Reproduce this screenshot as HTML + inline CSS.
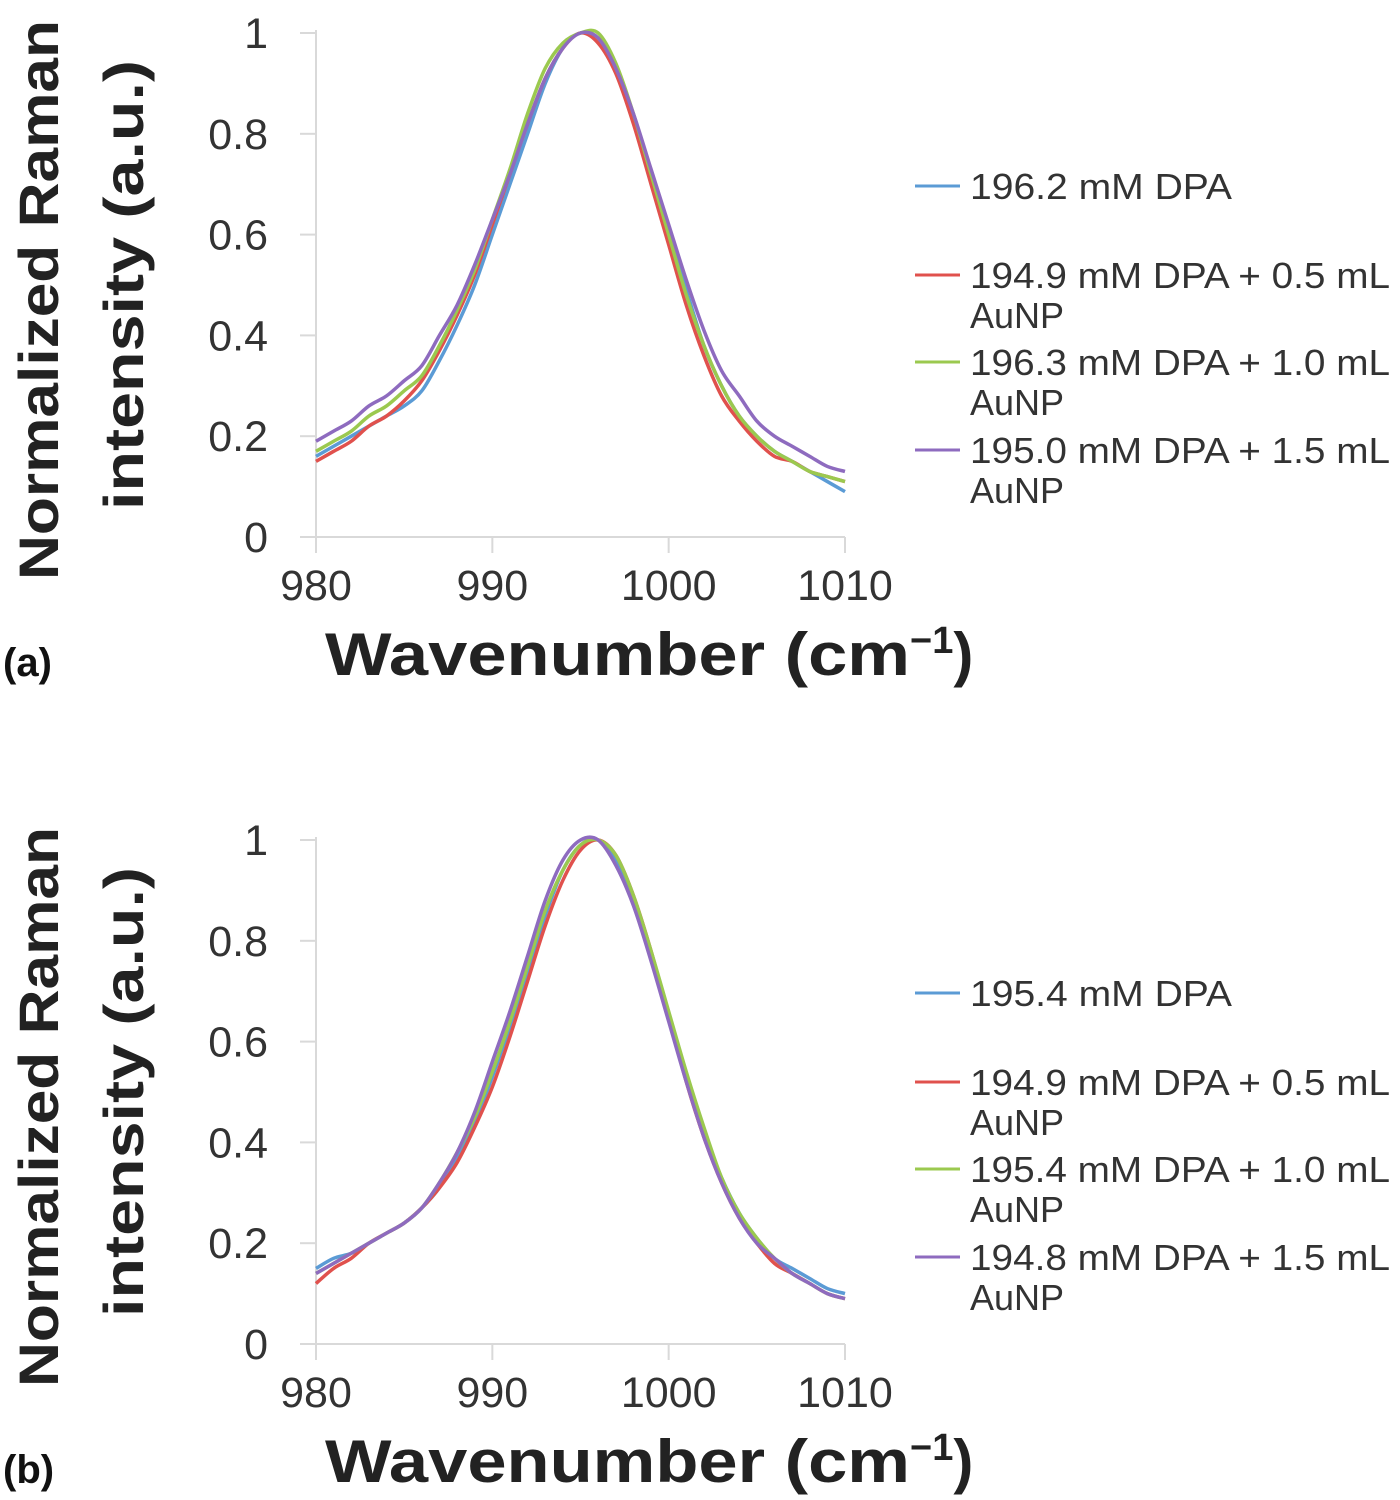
<!DOCTYPE html>
<html><head><meta charset="utf-8"><style>
body{margin:0;background:#fff}
svg{display:block;font-family:"Liberation Sans",Arial,sans-serif}
</style></head><body>
<svg id="fig" width="1400" height="1500" viewBox="0 0 1400 1500"></svg>
<script>
const xs=[980,981,982,983,984,985,986,987,988,989,990,991,992,993,994,995,996,997,998,999,1000,1001,1002,1003,1004,1005,1006,1007,1008,1009,1010];
const xTicks=[980,990,1000,1010];
const yTicks=[0,0.2,0.4,0.6,0.8,1];
const yTickLabels=["0","0.2","0.4","0.6","0.8","1"];
const colors=["#5b9bd5","#e0514d","#9bc94f","#8e6bbf"];
const labelsA=["196.2 mM DPA","194.9 mM DPA + 0.5 mL|AuNP","196.3 mM DPA + 1.0 mL|AuNP","195.0 mM DPA + 1.5 mL|AuNP"];
const labelsB=["195.4 mM DPA","194.9 mM DPA + 0.5 mL|AuNP","195.4 mM DPA + 1.0 mL|AuNP","194.8 mM DPA + 1.5 mL|AuNP"];
const a1=[0.16,0.18,0.20,0.22,0.24,0.26,0.29,0.35,0.42,0.50,0.60,0.70,0.80,0.90,0.97,1.00,0.99,0.93,0.83,0.71,0.60,0.49,0.38,0.30,0.24,0.20,0.17,0.15,0.13,0.11,0.09];
const a2=[0.15,0.17,0.19,0.22,0.24,0.27,0.31,0.37,0.44,0.52,0.62,0.72,0.82,0.91,0.97,1.00,0.98,0.92,0.82,0.70,0.58,0.46,0.36,0.28,0.23,0.19,0.16,0.15,0.13,0.12,0.11];
const a3=[0.17,0.19,0.21,0.24,0.26,0.29,0.32,0.38,0.45,0.53,0.63,0.73,0.84,0.93,0.98,1.00,1.00,0.94,0.84,0.72,0.60,0.48,0.38,0.30,0.24,0.20,0.17,0.15,0.13,0.12,0.11];
const a4=[0.19,0.21,0.23,0.26,0.28,0.31,0.34,0.40,0.46,0.54,0.63,0.72,0.82,0.91,0.97,1.00,0.99,0.93,0.84,0.73,0.62,0.51,0.41,0.33,0.28,0.23,0.20,0.18,0.16,0.14,0.13];
const b1=[0.15,0.17,0.18,0.20,0.22,0.24,0.27,0.31,0.37,0.44,0.53,0.63,0.74,0.85,0.94,0.99,1.00,0.96,0.88,0.77,0.65,0.53,0.42,0.33,0.26,0.21,0.17,0.15,0.13,0.11,0.10];
const b2=[0.12,0.15,0.17,0.20,0.22,0.24,0.27,0.31,0.36,0.43,0.51,0.61,0.72,0.83,0.92,0.98,1.00,0.97,0.89,0.78,0.65,0.52,0.41,0.32,0.25,0.20,0.16,0.14,0.12,0.10,0.09];
const b3=[0.14,0.16,0.18,0.20,0.22,0.24,0.27,0.32,0.38,0.45,0.54,0.64,0.75,0.86,0.94,0.99,1.00,0.97,0.89,0.78,0.66,0.54,0.43,0.33,0.26,0.21,0.17,0.14,0.12,0.10,0.09];
const b4=[0.14,0.16,0.18,0.20,0.22,0.24,0.27,0.32,0.38,0.46,0.56,0.66,0.77,0.88,0.96,1.00,1.00,0.95,0.87,0.76,0.64,0.52,0.41,0.32,0.25,0.20,0.17,0.14,0.12,0.10,0.09];
const NS="http://www.w3.org/2000/svg";
const svg=document.getElementById('fig');
function mk(tag,attrs,parent){const e=document.createElementNS(NS,tag);for(const k in attrs)e.setAttribute(k,attrs[k]);(parent||svg).appendChild(e);return e;}
function panel(off,series,labels,letter,pname){
  const g=mk('g',{});
  
  
  const X=v=>316+(v-980)/30*529;
  const Y=v=>537+off-v*504;
  const ya=mk('line',{x1:316,y1:30+off,x2:316,y2:537+off,stroke:'#d9d9d9','stroke-width':2},g);
  
  const xa=mk('line',{x1:300,y1:537+off,x2:845,y2:537+off,stroke:'#d9d9d9','stroke-width':2},g);
  
  xTicks.forEach(t=>{
    const tk=mk('line',{x1:X(t),y1:537+off,x2:X(t),y2:553+off,stroke:'#d9d9d9','stroke-width':2},g);
    
    const tx=mk('text',{x:X(t),y:600+off,'text-anchor':'middle','font-size':43,fill:'#333'},g);
    tx.textContent=t;
    
  });
  yTicks.forEach((t,i)=>{
    const tk=mk('line',{x1:300,y1:Y(t),x2:316,y2:Y(t),stroke:'#d9d9d9','stroke-width':2},g);
    
    const tx=mk('text',{x:268,y:Y(t)+15,'text-anchor':'end','font-size':43,fill:'#333'},g);
    tx.textContent=yTickLabels[i];
    
  });
  series.forEach((s,si)=>{
    const p=s.map((v,i)=>[X(xs[i]),Y(v)]);
    let d='M'+p[0][0]+','+p[0][1];
    for(let i=0;i<p.length-1;i++){
      const p0=p[Math.max(0,i-1)],p1=p[i],p2=p[i+1],p3=p[Math.min(p.length-1,i+2)];
      d+=` C${p1[0]+(p2[0]-p0[0])/6},${p1[1]+(p2[1]-p0[1])/6} ${p2[0]-(p3[0]-p1[0])/6},${p2[1]-(p3[1]-p1[1])/6} ${p2[0]},${p2[1]}`;
    }
    const path=mk('path',{d:d,fill:'none',stroke:colors[si],'stroke-width':3.5},g);
    
    
  });
  const yt=mk('text',{transform:`translate(58,${300+off}) rotate(-90)`,'text-anchor':'middle','font-size':56,'font-weight':'bold',fill:'#222',textLength:560,lengthAdjust:'spacingAndGlyphs'},g);
  yt.textContent='Normalized Raman';
  
  const yt2=mk('text',{transform:`translate(143,${285+off}) rotate(-90)`,'text-anchor':'middle','font-size':56,'font-weight':'bold',fill:'#222',textLength:450,lengthAdjust:'spacingAndGlyphs'},g);
  yt2.textContent='intensity (a.u.)';
  
  const xt=mk('text',{x:325,y:675+off,'font-size':60,'font-weight':'bold',fill:'#222'},g);
  xt.innerHTML='<tspan textLength="585" lengthAdjust="spacingAndGlyphs">Wavenumber (cm</tspan><tspan font-size="38" dy="-22">−1</tspan><tspan dy="22">)</tspan>';
  
  const lt=mk('text',{x:3,y:676+off,'font-size':40,'font-weight':'bold',fill:'#111'},g);
  lt.textContent=letter;
  
  const ly=[186,275,362,450];
  labels.forEach((l,i)=>{
    const ln=mk('line',{x1:915,y1:ly[i]+off,x2:960,y2:ly[i]+off,stroke:colors[i],'stroke-width':3},g);
    
    const parts=l.split('|');
    parts.forEach((pt,j)=>{
      const attrs={x:970,y:ly[i]+13+off+j*40,'font-size':36,fill:'#333'};
      if(j===0 && pt.length>15){attrs.textLength=420;attrs.lengthAdjust='spacingAndGlyphs';}
      if(j===0 && pt.length<=15){attrs.textLength=262;attrs.lengthAdjust='spacingAndGlyphs';}
      const t=mk('text',attrs,g);
      t.textContent=pt;
      
    });
  });
}
panel(0,[a1,a2,a3,a4],labelsA,'(a)','panel-a');
panel(807,[b1,b2,b3,b4],labelsB,'(b)','panel-b');
</script>
</body></html>
